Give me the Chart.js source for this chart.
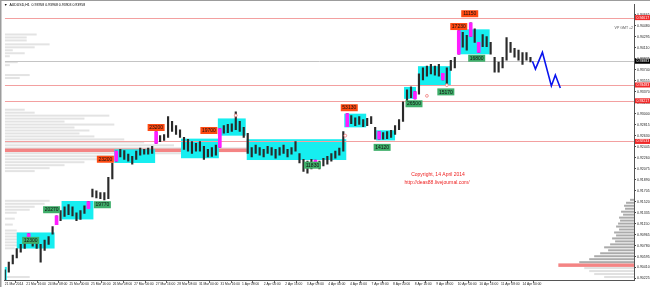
<!DOCTYPE html>
<html>
<head>
<meta charset="utf-8">
<script src="https://cdn.jsdelivr.net/npm/chart.js@4"></script>
<style>
  html, body { margin: 0; padding: 0; background: #fff; }
  #wrap { width: 650px; height: 287px; position: relative; }
</style>
</head>
<body>
<div id="wrap"><canvas id="kursChart"></canvas></div>
<script>
// AUDUSD H1, 21 Mar - 14 Apr 2014
const timeLabels = ['21 Mar 2014', '21 Mar 16:00', '24 Mar 08:00', '25 Mar 00:00', '25 Mar 16:00',
  '26 Mar 08:00', '27 Mar 00:00', '27 Mar 16:00', '28 Mar 08:00', '31 Mar 00:00', '31 Mar 16:00',
  '1 Apr 08:00', '2 Apr 00:00', '2 Apr 16:00', '3 Apr 08:00', '4 Apr 00:00', '4 Apr 16:00',
  '7 Apr 08:00', '8 Apr 00:00', '8 Apr 16:00', '9 Apr 08:00', '10 Apr 00:00', '10 Apr 16:00',
  '11 Apr 08:00', '14 Apr 00:00'];

const priceTicks = [0.90225, 0.90410, 0.90595, 0.90780, 0.90965, 0.91150, 0.91335, 0.91520,
  0.91705, 0.91890, 0.92075, 0.92260, 0.92445, 0.92630, 0.92815, 0.93000, 0.93185, 0.93370,
  0.93555, 0.93740, 0.93925, 0.94110, 0.94295, 0.94480, 0.94665];

const barHigh = [0.9037, 0.9050, 0.9062, 0.9073, 0.9080, 0.9087, 0.9098, 0.9090, 0.9087, 0.9080,
  0.9087, 0.9093, 0.9110, 0.9128, 0.9137, 0.9143, 0.9147, 0.9143, 0.9133, 0.9137,
  0.9145, 0.9152, 0.9173, 0.9170, 0.9167, 0.9167, 0.9193, 0.9217, 0.9237, 0.9240,
  0.9238, 0.9232, 0.9228, 0.9237, 0.9242, 0.9240, 0.9242, 0.9245, 0.9270, 0.9263,
  0.9265, 0.9295, 0.9287, 0.9280, 0.9273, 0.9260, 0.9257, 0.9253, 0.9250, 0.9253,
  0.9245, 0.9240, 0.9243, 0.9247, 0.9275, 0.9280, 0.9282, 0.9283, 0.9303, 0.9287,
  0.9277, 0.9267, 0.9243, 0.9247, 0.9243, 0.9240, 0.9245, 0.9243, 0.9240, 0.9243,
  0.9247, 0.9240, 0.9243, 0.9253, 0.9233, 0.9223, 0.9220, 0.9223, 0.9222, 0.9220,
  0.9225, 0.9228, 0.9233, 0.9237, 0.9242, 0.9270, 0.9300, 0.9297, 0.9293, 0.9295,
  0.9290, 0.9292, 0.9295, 0.9277, 0.9270, 0.9268, 0.9270, 0.9272, 0.9280, 0.9290,
  0.9320, 0.9340, 0.9345, 0.9337, 0.9367, 0.9377, 0.9380, 0.9383, 0.9380, 0.9383,
  0.9368, 0.9377, 0.9390, 0.9395, 0.9440, 0.9437, 0.9432, 0.9453, 0.9443, 0.9420,
  0.9433, 0.9430, 0.9420, 0.9395, 0.9387, 0.9395, 0.9428, 0.9420, 0.9410, 0.9407,
  0.9403, 0.9403, 0.9395];

const barLow = [0.9020, 0.9033, 0.9047, 0.9057, 0.9067, 0.9073, 0.9087, 0.9077, 0.9073, 0.9050,
  0.9070, 0.9080, 0.9097, 0.9113, 0.9120, 0.9127, 0.9130, 0.9128, 0.9120, 0.9122,
  0.9132, 0.9140, 0.9160, 0.9158, 0.9157, 0.9155, 0.9157, 0.9190, 0.9220, 0.9227,
  0.9223, 0.9220, 0.9215, 0.9223, 0.9230, 0.9232, 0.9232, 0.9233, 0.9250, 0.9253,
  0.9255, 0.9260, 0.9270, 0.9265, 0.9260, 0.9240, 0.9237, 0.9233, 0.9237, 0.9237,
  0.9223, 0.9227, 0.9228, 0.9230, 0.9243, 0.9267, 0.9268, 0.9270, 0.9273, 0.9270,
  0.9260, 0.9233, 0.9227, 0.9233, 0.9230, 0.9227, 0.9233, 0.9230, 0.9225, 0.9230,
  0.9233, 0.9227, 0.9232, 0.9237, 0.9217, 0.9203, 0.9200, 0.9207, 0.9210, 0.9207,
  0.9212, 0.9215, 0.9220, 0.9225, 0.9230, 0.9237, 0.9278, 0.9283, 0.9280, 0.9282,
  0.9278, 0.9280, 0.9283, 0.9257, 0.9257, 0.9257, 0.9258, 0.9260, 0.9265, 0.9273,
  0.9287, 0.9320, 0.9327, 0.9325, 0.9333, 0.9357, 0.9363, 0.9367, 0.9365, 0.9363,
  0.9357, 0.9350, 0.9373, 0.9377, 0.9400, 0.9412, 0.9407, 0.9430, 0.9420, 0.9403,
  0.9413, 0.9413, 0.9400, 0.9370, 0.9370, 0.9377, 0.9390, 0.9403, 0.9395, 0.9390,
  0.9383, 0.9390, 0.9387];

// signal candles painted magenta
const signalBars = [6, 13, 21, 28, 38, 54, 78, 86, 94, 103, 110, 114, 117, 119];

// zones: [from bar, to bar, low, high]
const zones = [
  [-0.5, 0.5, 0.9020, 0.9042], [3, 12.5, 0.9073, 0.9100], [14.25, 22.25, 0.9122, 0.9153],
  [27.5, 37.75, 0.9217, 0.9240], [44.25, 53.75, 0.9225, 0.9258], [53.5, 60.5, 0.9263, 0.9292],
  [60.75, 85.75, 0.9222, 0.9257], [85.25, 90.75, 0.9277, 0.9300], [93.25, 98, 0.9255, 0.9272],
  [100.25, 103.25, 0.9325, 0.9345], [103.75, 112, 0.9348, 0.9380], [114.25, 121.75, 0.9400, 0.9442]
];

// volume labels: [bar, price, text, kind]
const tags = [
  [6.5, 0.90867, '12300', 'g'], [11.75, 0.91383, '20270', 'g'], [24.5, 0.91467, '19770', 'g'],
  [25.25, 0.92233, '23200', 'o'], [38, 0.92767, '23200', 'o'], [51.25, 0.92717, '19700', 'o'],
  [77.25, 0.92133, '11830', 'g'], [86.5, 0.93100, '53130', 'o'], [94.75, 0.92433, '14120', 'g'],
  [102.75, 0.93167, '26500', 'g'], [110.75, 0.93367, '15170', 'g'], [114, 0.94467, '17230', 'o'],
  [116.75, 0.94683, '11150', 'o'], [118.5, 0.93933, '16800', 'g']
];

const levelPrices = [0.94617, 0.93483, 0.93217, 0.92533];
const lastPrice = 0.93883;

const forecastX = [132.5, 133.25, 135, 137.25, 138.25, 139.5];
const forecastY = [0.93883, 0.93750, 0.94033, 0.93467, 0.93650, 0.93433];

const dotX = [58, 85.5, 106, 111];
const dotY = [0.9297, 0.9263, 0.9330, 0.9348];

// volume profiles (price level, volume)
const leftLevels = [0.94333, 0.94283, 0.94233, 0.94167, 0.94117, 0.94067, 0.94017, 0.93967, 0.93867,
  0.93817, 0.93650, 0.93600, 0.93067, 0.93017, 0.92967, 0.92917, 0.92867, 0.92817, 0.92767,
  0.92717, 0.92667, 0.92617, 0.92567, 0.92517, 0.92467, 0.92417, 0.92383, 0.92333, 0.92283,
  0.92233, 0.92183, 0.92133, 0.92083, 0.92033, 0.91533, 0.91483, 0.91433, 0.91383, 0.91333,
  0.91233, 0.91133, 0.91033, 0.90983, 0.90933, 0.90883, 0.90833, 0.90783, 0.90733, 0.90250];
const leftVol = [32, 22, 22, 45, 30, 8, 20, 5, 13, 5, 25, 15, 20, 30, 105, 80, 60, 110, 70, 85, 75,
  90, 120, 140, 170, 260, 300, 200, 150, 110, 80, 60, 45, 30, 45, 40, 30, 25, 12, 10, 8, 12, 25,
  30, 20, 15, 18, 10, 25];

const rightLevels = [0.9025, 0.9030, 0.9035, 0.9040, 0.9045, 0.9050, 0.9055, 0.9060, 0.9065,
  0.9070, 0.9075, 0.9080, 0.9085, 0.9090, 0.9095, 0.9100, 0.9105, 0.9110, 0.9115, 0.9120,
  0.9125, 0.9130, 0.9135, 0.9140, 0.9145, 0.9150, 0.9155];
const rightVol = [30, 40, 45, 50, 76, 55, 45, 40, 34, 26, 30, 24, 19, 22, 18, 20, 15, 18, 16, 14,
  15, 11, 13, 9, 10, 8, 4];

const volMax = 632;

function drawProfile(ctx, area, y, levels, vols, fromRight) {
  const unit = area.width / volMax;
  const top = Math.max(...vols);
  const poc = levels[vols.indexOf(top)];
  levels.forEach((lv, i) => {
    const py = y.getPixelForValue(lv);
    const w = vols[i] * unit;
    const isPoc = vols[i] === top;
    if (isPoc) ctx.fillStyle = 'rgba(240,80,80,0.7)';
    else if (fromRight) ctx.fillStyle = lv < poc ? '#e0e0e0' : '#ababab';
    else ctx.fillStyle = '#e3e3e3';
    const h = isPoc ? 3.5 : 2;
    if (fromRight) ctx.fillRect(area.right - w, py - h / 2, w, h);
    else ctx.fillRect(area.left, py - h / 2, w, h);
  });
}

const overlay = {
  id: 'overlay',
  beforeDatasetsDraw(chart) {
    const { ctx, chartArea: a, scales: { x, y } } = chart;
    ctx.save();
    ctx.beginPath();
    ctx.rect(a.left, a.top, a.width, a.height);
    ctx.clip();
    drawProfile(ctx, a, y, leftLevels, leftVol, false);
    drawProfile(ctx, a, y, rightLevels, rightVol, true);

    ctx.fillStyle = '#16eef0';
    zones.forEach(z => {
      const x0 = x.getPixelForValue(z[0]), x1 = x.getPixelForValue(z[1]);
      const y0 = y.getPixelForValue(z[3]), y1 = y.getPixelForValue(z[2]);
      ctx.fillRect(x0, y0, x1 - x0, y1 - y0);
    });

    ctx.lineWidth = 1.2;
    ctx.strokeStyle = '#f3a0a0';
    levelPrices.forEach(p => {
      const py = Math.round(y.getPixelForValue(p)) + 0.5;
      ctx.beginPath(); ctx.moveTo(a.left, py); ctx.lineTo(a.right, py); ctx.stroke();
    });
    ctx.strokeStyle = '#c4c4c4';
    ctx.lineWidth = 1;
    const ly = Math.round(y.getPixelForValue(lastPrice)) + 0.5;
    ctx.beginPath(); ctx.moveTo(a.left, ly); ctx.lineTo(a.right, ly); ctx.stroke();
    ctx.restore();
  },
  afterDatasetsDraw(chart) {
    const { ctx, scales: { x, y } } = chart;
    ctx.save();
    ctx.font = '5px "Liberation Sans"';
    ctx.textAlign = 'center';
    ctx.textBaseline = 'middle';
    tags.forEach(t => {
      const px = x.getPixelForValue(t[0]), py = y.getPixelForValue(t[1]);
      ctx.fillStyle = t[3] === 'g' ? '#3fae6a' : '#ff4a12';
      ctx.fillRect(px - 8.5, py - 3.5, 17, 7);
      ctx.fillStyle = '#111';
      ctx.fillText(t[2], px, py + 0.3);
    });
    ctx.restore();
  },
  afterDraw(chart) {
    const { ctx, chartArea: a, scales: { y } } = chart;
    ctx.save();
    // frame
    ctx.fillStyle = '#9c9c9c';
    ctx.fillRect(0, 0, chart.width, 1);
    ctx.fillRect(0, 0, 1.5, chart.height);

    // price markers on the axis
    ctx.font = '3.5px "Liberation Sans"';
    ctx.textBaseline = 'middle';
    ctx.textAlign = 'left';
    const mark = (p, bg) => {
      const py = y.getPixelForValue(p);
      ctx.fillStyle = bg;
      ctx.fillRect(a.right + 1, py - 2.5, 15, 5);
      ctx.fillStyle = '#fff';
      ctx.fillText(p.toFixed(5), a.right + 2.5, py);
    };
    levelPrices.forEach(p => mark(p, '#f02828'));
    mark(lastPrice, '#000');

    ctx.fillStyle = '#000';
    ctx.fillText('\u25BC  AUDUSD,H1  0.93958 0.93968 0.93903 0.93958', 4, 5);
    ctx.fillStyle = '#555';
    ctx.textAlign = 'right';
    ctx.fillText('VP GMT +2', a.right - 1, y.getPixelForValue(0.94450));

    ctx.fillStyle = '#ee2222';
    ctx.textAlign = 'center';
    ctx.font = '5px "Liberation Sans"';
    ctx.fillText('Copyright, 14 April 2014', 438, 175);
    ctx.fillText('http://deas88.livejournal.com/', 437, 183);
    ctx.restore();
  }
};

const ctx = document.getElementById('kursChart').getContext('2d');

new Chart(ctx, {
  type: 'bar',
  data: {
    datasets: [{
      label: 'AUDUSD',
      data: barLow.map((lo, i) => ({ x: i, y: [lo, barHigh[i]] })),
      backgroundColor: '#2a2a2a',
      barThickness: 1.5,
      grouped: false,
      order: 3
    },
    {
      label: 'Signal',
      data: signalBars.map(i => ({ x: i, y: [barLow[i], barHigh[i]] })),
      backgroundColor: '#ff1cff',
      barThickness: 3,
      grouped: false,
      order: 2
    },
    {
      label: 'Prognose',
      type: 'line',
      data: forecastX.map((v, i) => ({ x: v, y: forecastY[i] })),
      borderColor: '#0a14ee',
      borderWidth: 1.6,
      pointRadius: 0,
      fill: false,
      order: 1
    },
    {
      label: 'Marker',
      type: 'scatter',
      data: dotX.map((v, i) => ({ x: v, y: dotY[i] })),
      pointRadius: 1.4,
      pointBorderWidth: 0.8,
      pointBorderColor: '#f07a7a',
      pointBackgroundColor: '#fff',
      order: 0
    }]
  },
  options: {
    responsive: true,
    maintainAspectRatio: false,
    animation: false,
    layout: { padding: { left: 2, top: 2, right: 0, bottom: 0 } },
    plugins: { legend: { display: false }, tooltip: { enabled: false } },
    scales: {
      x: {
        type: 'linear',
        min: 0,
        max: 158,
        offset: false,
        afterFit(scale) { scale.height = 7; },
        afterBuildTicks(scale) {
          scale.ticks = timeLabels.map((t, k) => ({ value: k * 5.4167 }));
        },
        grid: { drawOnChartArea: false, tickLength: 3, color: '#666' },
        border: { color: '#555' },
        ticks: {
          autoSkip: false,
          maxRotation: 0,
          align: 'start',
          padding: -1,
          color: '#222',
          font: { family: 'Liberation Sans', size: 3.3 },
          callback: (v, i) => timeLabels[i]
        }
      },
      y: {
        position: 'right',
        min: 0.9020,
        max: 0.94833,
        afterFit(scale) { scale.width = 16; },
        afterBuildTicks(scale) {
          scale.ticks = priceTicks.map(v => ({ value: v }));
        },
        grid: { drawOnChartArea: false, tickLength: 2, color: '#444' },
        border: { color: '#555' },
        ticks: {
          padding: 1,
          color: '#222',
          font: { family: 'Liberation Sans', size: 3.5 },
          callback: v => v.toFixed(5)
        }
      }
    }
  },
  plugins: [overlay]
});
</script>
</body>
</html>
